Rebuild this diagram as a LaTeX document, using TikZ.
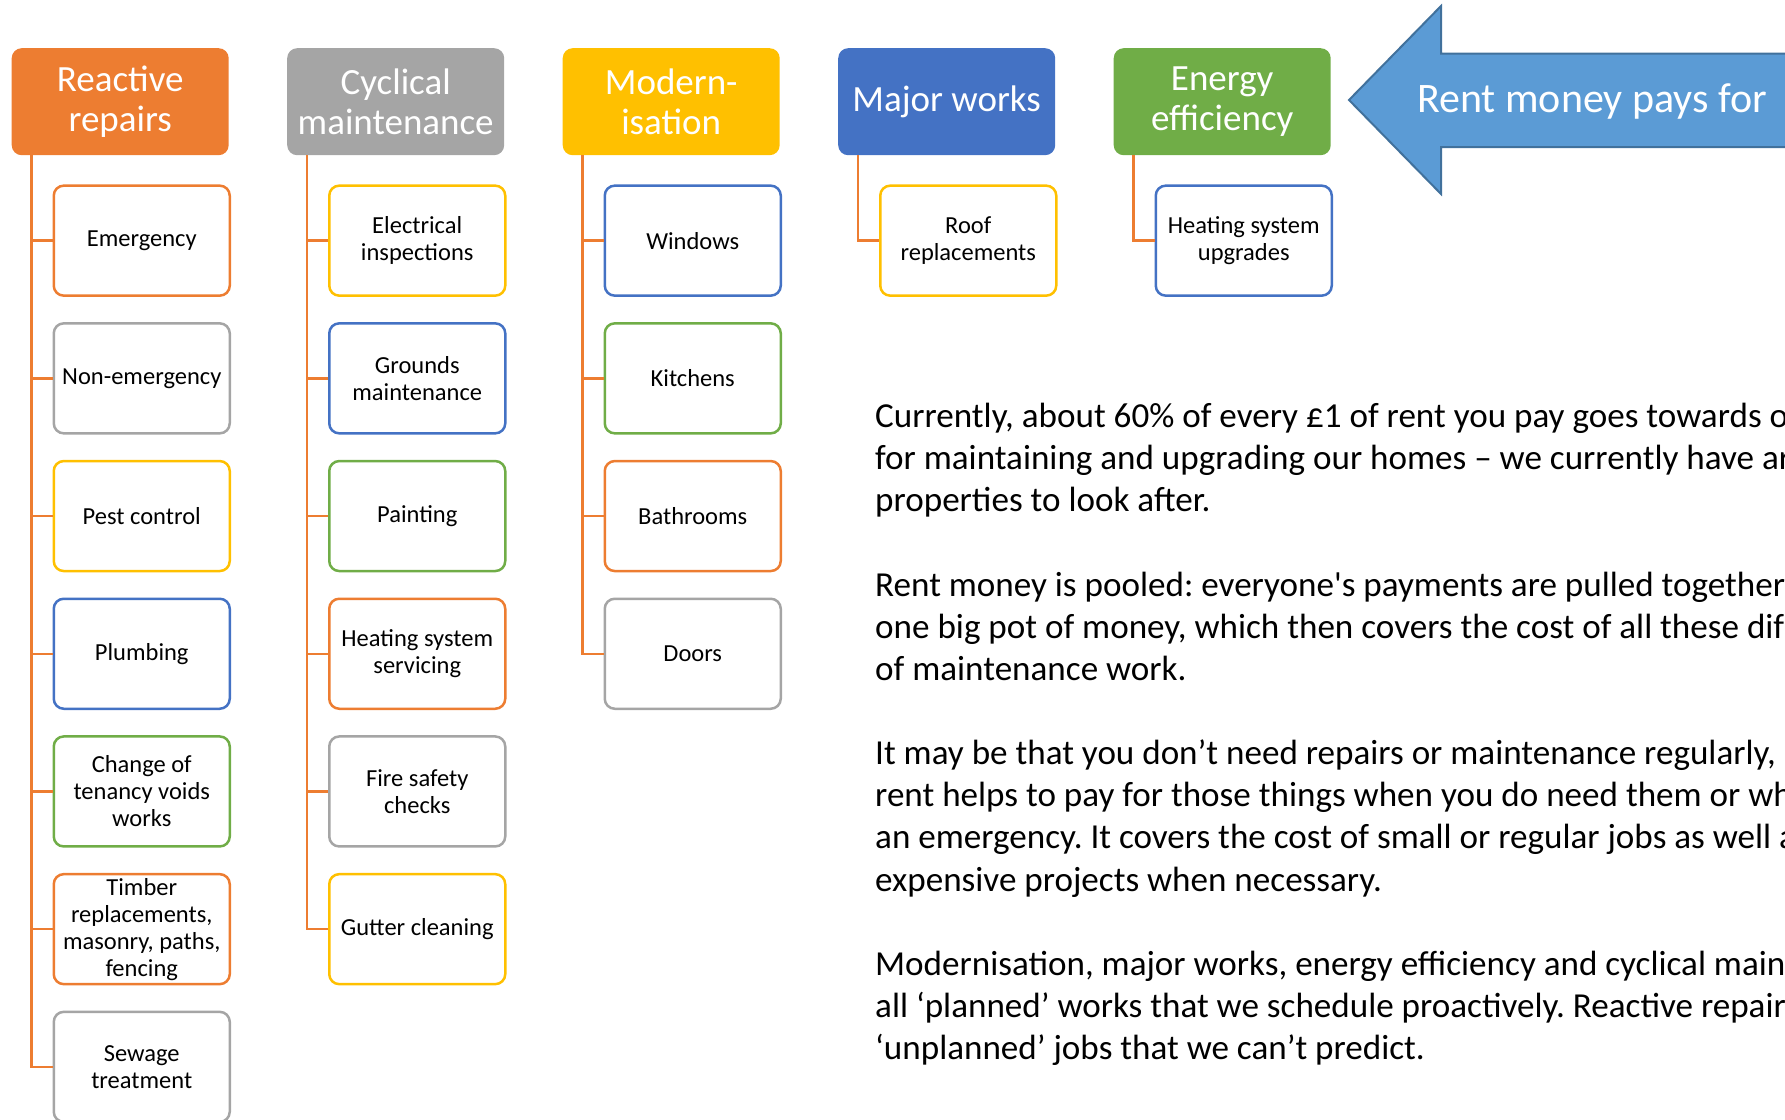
\documentclass[tikz,border=0pt]{standalone}
\usepackage{fontspec}
\setmainfont{Carlito}
\usepackage{tikz}
\frenchspacing

\definecolor{orng}{HTML}{ED7D31}
\definecolor{gry}{HTML}{A5A5A5}
\definecolor{gld}{HTML}{FFC000}
\definecolor{blu}{HTML}{4472C4}
\definecolor{grn}{HTML}{70AD47}
\definecolor{arrfill}{HTML}{5B9BD5}
\definecolor{arrline}{HTML}{41719C}

\begin{document}
\begin{tikzpicture}[x=1pt, y=-1pt,
		head/.style = {fill=#1, rounded corners=10pt, anchor=north west,
			minimum width=217pt, minimum height=107pt, inner sep=2pt,
			align=center, text=white, font=\fontsize{37}{40.5}\selectfont},
		item/.style = {draw=#1, line width=2.5pt, fill=white,
			rounded corners=10pt, anchor=north west,
			minimum width=176pt, minimum height=110pt, inner sep=2pt,
			align=center, font=\fontsize{24.5}{27}\selectfont},
		link/.style = {draw=orng, line width=2.5pt},
		txt/.style = {anchor=base west, inner sep=0pt,
			font=\fontsize{35.1}{42}\selectfont}
                    ]
		\useasboundingbox (0,0) rectangle (1785,1119);
		\clip (0,0) rectangle (1785,1119);

		% headers
		\node(rr) [head=orng] at (11.5,48)   {Reactive\\repairs};
		\node(cm) [head=gry]  at (287,48)    {Cyclical\\maintenance};
		\node(mo) [head=gld]  at (562.5,48)  {Modern-\\isation};
		\node(mw) [head=blu]  at (838,48)    {Major works};
		\node(ee) [head=grn]  at (1113.5,48) {Energy\\efficiency};

		% reactive repairs
		\node(rr1) [item=orng] at (52.5,184.4)  {Emergency};
		\node(rr2) [item=gry]  at (52.5,322.1)  {Non-emergency};
		\node(rr3) [item=gld]  at (52.5,459.8)  {Pest control};
		\node(rr4) [item=blu]  at (52.5,597.5)  {Plumbing};
		\node(rr5) [item=grn]  at (52.5,735.2)  {Change of\\tenancy voids\\works};
		\node(rr6) [item=orng] at (52.5,872.9)  {Timber\\replacements,\\masonry, paths,\\fencing};
		\node(rr7) [item=gry]  at (52.5,1010.6) {Sewage\\treatment};

		% cyclical maintenance
		\node(cm1) [item=gld]  at (328,184.4) {Electrical\\inspections};
		\node(cm2) [item=blu]  at (328,322.1) {Grounds\\maintenance};
		\node(cm3) [item=grn]  at (328,459.8) {Painting};
		\node(cm4) [item=orng] at (328,597.5) {Heating system\\servicing};
		\node(cm5) [item=gry]  at (328,735.2) {Fire safety\\checks};
		\node(cm6) [item=gld]  at (328,872.9) {Gutter cleaning};

		% modernisation
		\node(mo1) [item=blu]  at (603.5,184.4) {Windows};
		\node(mo2) [item=grn]  at (603.5,322.1) {Kitchens};
		\node(mo3) [item=orng] at (603.5,459.8) {Bathrooms};
		\node(mo4) [item=gry]  at (603.5,597.5) {Doors};

		% major works, energy efficiency
		\node(mw1) [item=gld] at (879,184.4)    {Roof\\replacements};
		\node(ee1) [item=blu] at (1154.5,184.4) {Heating system\\upgrades};

		\path[link] ([xshift=20pt]rr.south west) |- (rr1.west)
        		([xshift=20pt]rr.south west) |- (rr2.west)
        		([xshift=20pt]rr.south west) |- (rr3.west)
        		([xshift=20pt]rr.south west) |- (rr4.west)
        		([xshift=20pt]rr.south west) |- (rr5.west)
        		([xshift=20pt]rr.south west) |- (rr6.west)
        		([xshift=20pt]rr.south west) |- (rr7.west);
		\path[link] ([xshift=20pt]cm.south west) |- (cm1.west)
        		([xshift=20pt]cm.south west) |- (cm2.west)
        		([xshift=20pt]cm.south west) |- (cm3.west)
        		([xshift=20pt]cm.south west) |- (cm4.west)
        		([xshift=20pt]cm.south west) |- (cm5.west)
        		([xshift=20pt]cm.south west) |- (cm6.west);
		\path[link] ([xshift=20pt]mo.south west) |- (mo1.west)
        		([xshift=20pt]mo.south west) |- (mo2.west)
        		([xshift=20pt]mo.south west) |- (mo3.west)
        		([xshift=20pt]mo.south west) |- (mo4.west);
		\path[link] ([xshift=20pt]mw.south west) |- (mw1.west)
        		([xshift=20pt]ee.south west) |- (ee1.west);

		% big arrow
		\draw[fill=arrfill, draw=arrline, line width=2pt]
			(1349,100) -- (1441,6) -- (1441,53.5) -- (1800,53.5)
			-- (1800,147) -- (1441,147) -- (1441,194) -- cycle;
		\node(pays) [text=white, font=\fontsize{42}{46}\selectfont]
			at (1592,101) {Rent money pays for};

		% text on the right
		\node(l1)  [txt] at (875,427.7)  {Currently, about 60\% of every £1 of rent you pay goes towards o};
		\node(l2)  [txt] at (875,469.8)  {for maintaining and upgrading our homes – we currently have ar};
		\node(l3)  [txt] at (875,511.9)  {properties to look after.};
		\node(l4)  [txt] at (875,596.2)  {Rent money is pooled: everyone\textquotesingle s payments are pulled together};
		\node(l5)  [txt] at (875,638.3)  {one big pot of money, which then covers the cost of all these dif};
		\node(l6)  [txt] at (875,680.4)  {of maintenance work.};
		\node(l7)  [txt] at (875,764.7)  {It may be that you don’t need repairs or maintenance regularly, b};
		\node(l8)  [txt] at (875,806.8)  {rent helps to pay for those things when you do need them or wh};
		\node(l9)  [txt] at (875,848.9)  {an emergency. It covers the cost of small or regular jobs as well a};
		\node(l10) [txt] at (875,891.0)  {expensive projects when necessary.};
		\node(l11) [txt] at (875,975.3)  {Modernisation, major works, energy efficiency and cyclical main};
		\node(l12) [txt] at (875,1017.4) {all ‘planned’ works that we schedule proactively. Reactive repair};
		\node(l13) [txt] at (875,1059.5) {‘unplanned’ jobs that we can’t predict.};
	\end{tikzpicture}
\end{document}
